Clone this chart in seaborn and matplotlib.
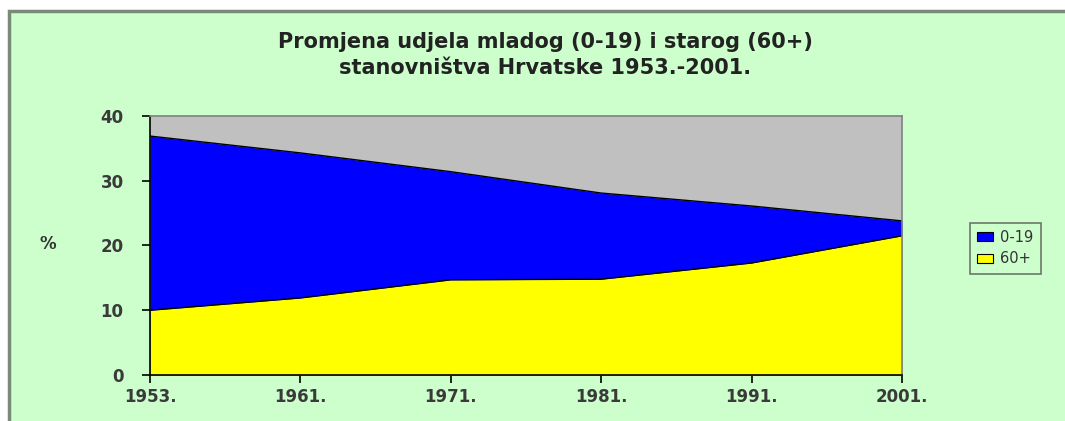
import numpy as np
import pandas as pd
import seaborn as sns
import matplotlib.pyplot as plt
from matplotlib.patches import Rectangle

years = ["1953.", "1961.", "1971.", "1981.", "1991.", "2001."]
young = [36.9, 34.3, 31.4, 28.1, 26.1, 23.8]   # 0-19
old = [10.0, 11.9, 14.7, 14.8, 17.3, 21.5]     # 60+

df = pd.DataFrame({"godina": years, "0-19": young, "60+": old})
df["x"] = np.arange(len(df))

sns.set_style("ticks")
plt.rcParams['font.family'] = ['DejaVu Sans']

fig = plt.figure(figsize=(10.65, 4.21), dpi=100)
fig.patch.set_facecolor("white")

# green background frame
fig.patches.append(Rectangle((9 / 1065, -0.05), 1.1, 1 - 11 / 421 + 0.05,
                             transform=fig.transFigure, facecolor="#CCFFCC",
                             edgecolor="#7A8A7A", linewidth=2.5, zorder=-10))

ax = fig.add_axes([150 / 1065, 1 - 375 / 421, (902 - 150) / 1065, (375 - 116) / 421])
ax.set_facecolor("#C0C0C0")

ax.fill_between(df["x"], df["0-19"], color="#0000FF", linewidth=0, label="0-19")
ax.fill_between(df["x"], df["60+"], color="#FFFF00", linewidth=0, label="60+")
sns.lineplot(data=df, x="x", y="0-19", ax=ax, color="black", linewidth=1, legend=False)
sns.lineplot(data=df, x="x", y="60+", ax=ax, color="black", linewidth=1, legend=False)

ax.set_xlim(0, len(df) - 1)
ax.set_ylim(0, 40)
ax.set_xticks(df["x"])
ax.set_xticklabels(df["godina"])
ax.set_yticks([0, 10, 20, 30, 40])
ax.tick_params(axis="both", which="major", direction="out", length=6, width=1.2,
               color="black", labelsize=12, labelcolor="#3a3a3a",
               bottom=True, left=True, top=False, right=False)
ax.tick_params(axis="y", pad=13)
ax.tick_params(axis="x", pad=3)
for lbl in ax.get_xticklabels() + ax.get_yticklabels():
    lbl.set_fontweight("bold")
ax.set_xlabel("")
ax.set_ylabel("%", rotation=0, fontsize=12, fontweight="bold", color="#333333")
ax.yaxis.set_label_coords(-0.136, 0.47)

for side in ["left", "bottom"]:
    ax.spines[side].set_color("black")
    ax.spines[side].set_linewidth(1.2)
for side in ["top", "right"]:
    ax.spines[side].set_visible(True)
    ax.spines[side].set_color("#808080")
    ax.spines[side].set_linewidth(1.2)

fig.text(545 / 1065, 1 - 42 / 421, "Promjena udjela mladog (0-19) i starog (60+)",
         ha="center", va="center", fontsize=15, fontweight="bold", color="#222222")
fig.text(545 / 1065, 1 - 68 / 421, "stanovništva Hrvatske 1953.-2001.",
         ha="center", va="center", fontsize=15, fontweight="bold", color="#222222")

leg = ax.legend(loc="center left", bbox_to_anchor=(1.09, 0.49), frameon=True,
                fontsize=10.5, handlelength=1.1, handleheight=0.6, handletextpad=0.5,
                borderpad=0.5, labelspacing=0.45, fancybox=False, borderaxespad=0)
leg.get_frame().set_facecolor("#CCFFCC")
leg.get_frame().set_edgecolor("#555555")
leg.get_frame().set_linewidth(1.2)
for h in leg.legend_handles:
    h.set_edgecolor("black")
    h.set_linewidth(0.8)
for t in leg.get_texts():
    t.set_color("#333333")

fig.savefig("out.png", dpi=100)
